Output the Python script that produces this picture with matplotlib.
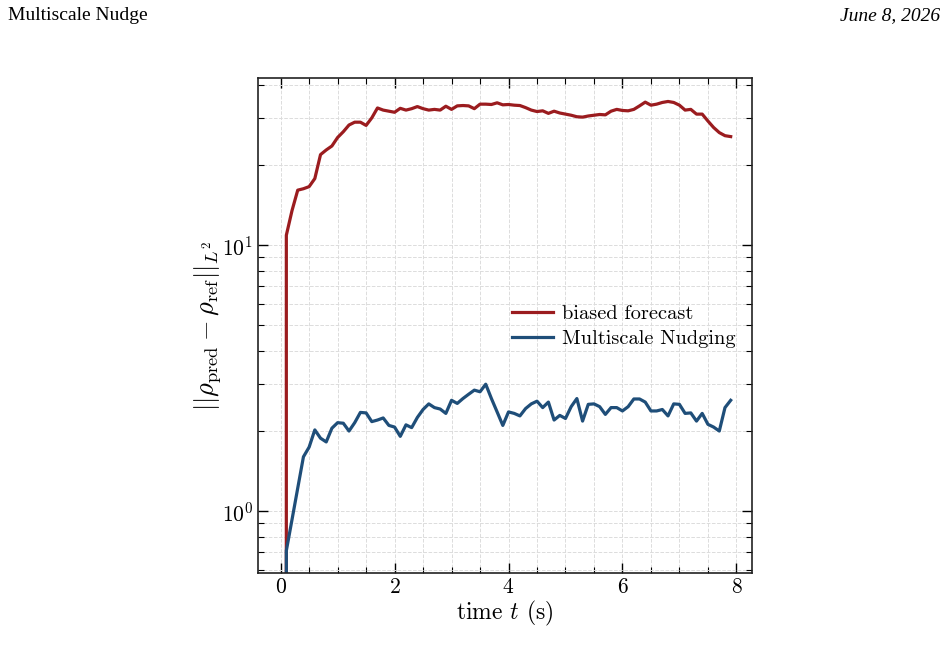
import numpy as np
import matplotlib
matplotlib.use("Agg")
from matplotlib import pyplot as plt
from matplotlib.ticker import LogLocator, MultipleLocator

plt.rcParams['font.family'] = 'serif'
plt.rcParams['font.serif'] = ['cmr10']
plt.rcParams['mathtext.fontset'] = 'cm'
plt.rcParams['axes.formatter.use_mathtext'] = True

# time axis (s)
t = np.round(np.arange(0, 8.0, 0.1), 1)

biased = [0.0, 10.9, 13.5, 16.1, 16.3, 16.6, 17.8, 21.9, 22.8, 23.6,
          25.4, 26.7, 28.3, 29.0, 29.0, 28.2, 30.1, 32.8, 32.2, 31.9,
          31.6, 32.7, 32.2, 32.6, 33.2, 32.6, 32.2, 32.4, 32.2, 33.3,
          32.4, 33.4, 33.5, 33.4, 32.6, 33.9, 33.9, 33.8, 34.3, 33.7,
          33.8, 33.6, 33.5, 32.9, 32.2, 31.8, 32.0, 31.3, 31.9, 31.4,
          31.1, 30.8, 30.4, 30.3, 30.6, 30.8, 31.0, 30.9, 31.9, 32.4,
          32.1, 32.0, 32.4, 33.4, 34.5, 33.6, 33.9, 34.4, 34.7, 34.4,
          33.6, 32.2, 32.4, 31.1, 31.1, 29.3, 27.7, 26.5, 25.8, 25.6]

nudging = [0.0, 0.71, 0.93, 1.22, 1.60, 1.74, 2.02, 1.88, 1.82, 2.05,
           2.15, 2.14, 2.00, 2.15, 2.35, 2.34, 2.17, 2.20, 2.24, 2.10,
           2.07, 1.91, 2.11, 2.06, 2.25, 2.41, 2.53, 2.45, 2.42, 2.33,
           2.61, 2.54, 2.65, 2.75, 2.85, 2.81, 3.00, 2.65, 2.36, 2.10,
           2.36, 2.33, 2.28, 2.43, 2.53, 2.59, 2.45, 2.57, 2.20, 2.29,
           2.23, 2.47, 2.65, 2.18, 2.52, 2.53, 2.47, 2.31, 2.45, 2.45,
           2.38, 2.47, 2.64, 2.64, 2.57, 2.38, 2.38, 2.41, 2.28, 2.53,
           2.52, 2.33, 2.34, 2.18, 2.33, 2.12, 2.07, 2.00, 2.45, 2.61]

fig = plt.figure(figsize=(9.48, 6.45), dpi=100)
ax = fig.add_axes([0.272, 0.1116, 0.521, 0.7674])

ax.set_yscale('log', nonpositive='clip')
ax.plot(t, biased, color='#9b1c1f', lw=2.3, label='biased forecast')
ax.plot(t, nudging, color='#1f4e79', lw=2.3, label='Multiscale Nudging')

ax.set_xlim(-0.4, 8.27)
ax.set_ylim(0.585, 42.5)
ax.xaxis.set_major_locator(MultipleLocator(2))
ax.xaxis.set_minor_locator(MultipleLocator(0.5))
ax.yaxis.set_major_locator(LogLocator(base=10))
ax.yaxis.set_minor_locator(LogLocator(base=10, subs=np.arange(2, 10)))

ax.grid(True, which='both', ls='--', lw=0.7, color='#dcdcdc')
ax.set_axisbelow(True)
ax.tick_params(which='both', direction='in', top=True, right=True, labelsize=15.5)
ax.tick_params(which='major', length=7, width=1.0)
ax.tick_params(which='minor', length=4, width=0.8)
for s in ax.spines.values():
    s.set_linewidth(1.2)
    s.set_color('#222222')

ax.set_xlabel(r'time $t$ (s)', fontsize=17, labelpad=1)
ax.set_ylabel(r'$||\rho_{\mathrm{pred}} - \rho_{\mathrm{ref}}||_{L^2}$', fontsize=19, labelpad=-1)

ax.legend(loc='center right', bbox_to_anchor=(0.996, 0.498), frameon=False,
          fontsize=14.7, handlelength=2.0, handletextpad=0.45,
          borderpad=0.2, labelspacing=0.3)

fig.text(0.008, 0.976, 'Multiscale Nudge', family='Liberation Serif',
         fontsize=14, va='center', ha='left')
fig.text(0.992, 0.976, 'June 8, 2026', family='Liberation Serif',
         style='italic', fontsize=14, va='center', ha='right')

fig.savefig('out.png', dpi=100)
